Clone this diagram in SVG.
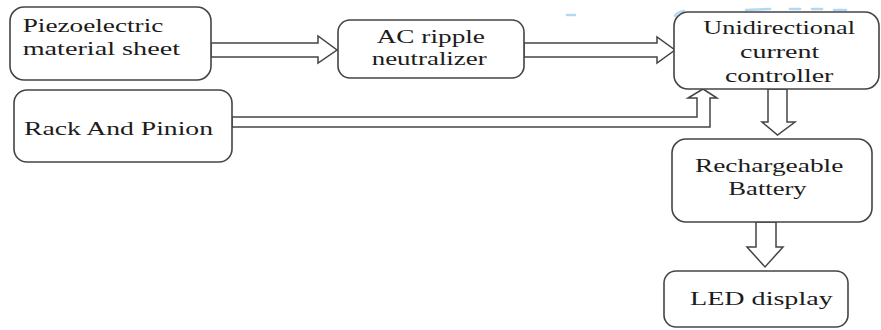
<svg xmlns="http://www.w3.org/2000/svg" width="881" height="330" viewBox="0 0 881 330">
<style>
.box{fill:#fff;stroke:#444;stroke-width:1.6}
.arr{fill:#fff;stroke:#444;stroke-width:1.5;stroke-linejoin:miter}
.t{font-family:'Liberation Serif','Times New Roman','DejaVu Serif',serif;font-size:19px;fill:#1c1c1c}
.smudge{fill:none;stroke:#9fd0f0;stroke-width:2.5;stroke-linecap:round;opacity:0.8}
</style>
<rect width="881" height="330" fill="#fff"/>
<g id="connectors">
<polygon class="arr" points="211,43 318,43 318,36 337,50 318,63 318,57 211,57"/>
<polygon class="arr" points="524,43 657,43 657,37 675,50 657,63 657,57 524,57"/>
<polygon class="arr" points="232,117 697,117 697,98 688,98 703,89 717,98 710,98 710,127 232,127"/>
<polygon class="arr" points="768,89 768,122 762,122 777.5,135 795,122 787,122 787,89"/>
<polygon class="arr" points="756,222 756,247 747,247 765,267 783,247 776,247 776,222"/>
</g>
<g id="smudges">
<path class="smudge" d="M675,16 Q677,12 684,11"/>
<path class="smudge" d="M746,10 L770,9"/>
<path class="smudge" d="M790,9 L800,9"/>
<path class="smudge" d="M812,9 L822,9"/>
<path class="smudge" d="M834,10 L846,10"/>
<path class="smudge" d="M567,15 L575,15" opacity="0.4"/>
</g>
<g id="piezo">
<rect class="box" x="10" y="7" width="201" height="73" rx="14"/>
<text class="t" x="22.7" y="31.7" textLength="140.6" lengthAdjust="spacingAndGlyphs">Piezoelectric</text>
<text class="t" x="22.7" y="55" textLength="157.3" lengthAdjust="spacingAndGlyphs">material  sheet</text>
</g>
<g id="ac">
<rect class="box" x="338" y="20" width="186" height="58" rx="12"/>
<text class="t" x="376.7" y="43.3" textLength="108.3" lengthAdjust="spacingAndGlyphs">AC ripple</text>
<text class="t" x="371.7" y="65" textLength="115" lengthAdjust="spacingAndGlyphs">neutralizer</text>
</g>
<g id="controller">
<rect class="box" x="674" y="12" width="205" height="77" rx="14"/>
<text class="t" x="703.3" y="34.3" textLength="151.7" lengthAdjust="spacingAndGlyphs">Unidirectional</text>
<text class="t" x="740" y="58.3" textLength="79.3" lengthAdjust="spacingAndGlyphs">current</text>
<text class="t" x="725" y="81.7" textLength="108.3" lengthAdjust="spacingAndGlyphs">controller</text>
</g>
<g id="rack">
<rect class="box" x="14" y="90" width="218" height="72" rx="13"/>
<text class="t" x="24" y="135" textLength="189" lengthAdjust="spacingAndGlyphs">Rack And  Pinion</text>
</g>
<g id="battery">
<rect class="box" x="672" y="139" width="200" height="83" rx="14"/>
<text class="t" x="695" y="171.7" textLength="148.3" lengthAdjust="spacingAndGlyphs">Rechargeable</text>
<text class="t" x="728.3" y="195" textLength="78.4" lengthAdjust="spacingAndGlyphs">Battery</text>
</g>
<g id="led">
<rect class="box" x="664" y="271" width="184" height="56" rx="12"/>
<text class="t" x="690" y="305" textLength="142.7" lengthAdjust="spacingAndGlyphs">LED  display</text>
</g>
</svg>
